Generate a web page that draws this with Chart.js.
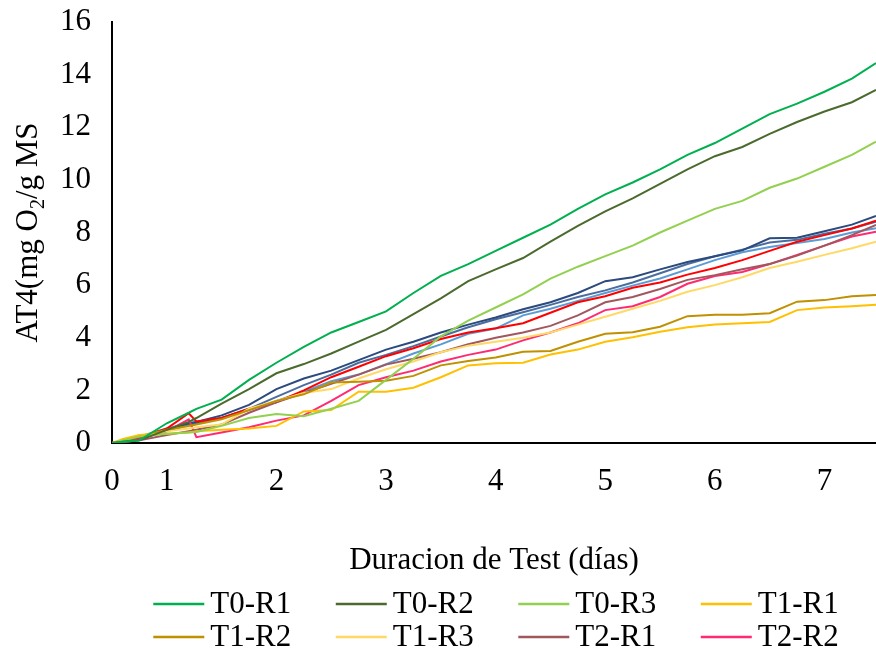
<!DOCTYPE html>
<html>
<head>
<meta charset="utf-8">
<title>AT4</title>
<script src="https://cdn.jsdelivr.net/npm/chart.js@4.4.1/dist/chart.umd.min.js"></script>
<style>
  html, body { margin: 0; padding: 0; background: #fff; }
  #wrap { width: 876px; height: 652px; }
</style>
</head>
<body>
<div id="wrap"><canvas id="at4Chart" width="876" height="652"></canvas></div>
<script>
// Sampling times (days) shared by every run
const days = [0, 0.1, 0.25, 0.5, 0.7, 0.77, 1.0, 1.25, 1.5, 1.75, 2.0, 2.25, 2.5, 2.75, 3.0, 3.25,
    3.5, 3.75, 4.0, 4.25, 4.5, 4.75, 5.0, 5.25, 5.5, 5.75, 6.0, 6.25, 6.5, 6.75, 6.97];

// Cumulative O2 uptake (mg O2 / g MS) per run
const t0r1 = [0, 0.05, 0.1, 0.75, 1.15, 1.3, 1.65, 2.4, 3.05, 3.65, 4.2, 4.6, 5.0, 5.7, 6.35, 6.8,
    7.3, 7.8, 8.3, 8.9, 9.45, 9.9, 10.4, 10.95, 11.4, 11.95, 12.5, 12.9, 13.35, 13.85, 14.44];
const t0r2 = [0, 0.05, 0.1, 0.5, 0.8, 0.95, 1.5, 2.05, 2.65, 3.0, 3.4, 3.85, 4.3, 4.9, 5.5, 6.15,
    6.6, 7.03, 7.65, 8.25, 8.8, 9.3, 9.85, 10.4, 10.9, 11.25, 11.75, 12.2, 12.6, 12.95, 13.42];
const t0r3 = [0, 0.1, 0.25, 0.35, 0.4, 0.42, 0.65, 0.95, 1.1, 1.02, 1.3, 1.6, 2.4, 3.2, 4.05, 4.65,
    5.15, 5.65, 6.25, 6.7, 7.1, 7.5, 8.0, 8.45, 8.9, 9.2, 9.7, 10.05, 10.5, 10.95, 11.45];
const t1r1 = [0, 0.15, 0.3, 0.35, 0.4, 0.45, 0.5, 0.55, 0.65, 1.2, 1.25, 1.95, 1.95, 2.1, 2.5, 2.95,
    3.03, 3.05, 3.36, 3.55, 3.85, 4.02, 4.23, 4.4, 4.5, 4.55, 4.6, 5.05, 5.15, 5.2, 5.25];
const t1r2 = [0, 0.1, 0.25, 0.5, 0.65, 0.7, 0.9, 1.25, 1.6, 1.85, 2.3, 2.33, 2.37, 2.55, 2.95, 3.12,
    3.25, 3.47, 3.5, 3.85, 4.15, 4.21, 4.42, 4.82, 4.87, 4.87, 4.93, 5.37, 5.43, 5.58, 5.62];
const t1r3 = [0, 0.1, 0.3, 0.45, 0.55, 0.6, 0.7, 1.3, 1.6, 1.9, 2.05, 2.45, 2.8, 3.1, 3.45, 3.7,
    3.85, 4.0, 4.2, 4.5, 4.8, 5.1, 5.4, 5.75, 6.0, 6.3, 6.65, 6.89, 7.15, 7.4, 7.65];
const t2r1 = [0, 0.03, 0.1, 0.3, 0.45, 0.5, 0.7, 1.15, 1.55, 1.9, 2.25, 2.6, 2.98, 3.2, 3.45, 3.75,
    4.0, 4.2, 4.45, 4.85, 5.35, 5.55, 5.85, 6.2, 6.38, 6.6, 6.8, 7.12, 7.5, 7.9, 8.29];
const t2r2 = [0, 0.05, 0.15, 0.45, 0.9, 0.22, 0.4, 0.6, 0.85, 1.05, 1.6, 2.2, 2.5, 2.75, 3.1, 3.35,
    3.55, 3.9, 4.2, 4.55, 5.05, 5.2, 5.55, 6.05, 6.35, 6.5, 6.8, 7.15, 7.5, 7.85, 8.03];
const t2r3 = [0, 0.05, 0.2, 0.55, 1.13, 0.82, 0.95, 1.3, 1.55, 2.0, 2.5, 2.9, 3.3, 3.6, 3.95, 4.2,
    4.36, 4.55, 4.95, 5.35, 5.58, 5.9, 6.1, 6.4, 6.65, 6.95, 7.3, 7.65, 7.9, 8.15, 8.45];
const t3r1 = [0, 0.1, 0.25, 0.5, 0.75, 0.8, 1.05, 1.45, 2.05, 2.45, 2.75, 3.15, 3.55, 3.85, 4.2, 4.5,
    4.77, 5.08, 5.35, 5.7, 6.15, 6.3, 6.6, 6.88, 7.1, 7.32, 7.78, 7.8, 8.05, 8.3, 8.63];
const t3r2 = [0, 0.08, 0.2, 0.45, 0.7, 0.75, 0.95, 1.3, 1.75, 2.2, 2.6, 3.05, 3.35, 3.68, 4.05, 4.4,
    4.7, 4.97, 5.25, 5.55, 5.8, 6.1, 6.45, 6.8, 7.1, 7.35, 7.62, 7.72, 7.95, 8.15, 8.41];
const t3r3 = [0, 0.08, 0.25, 0.55, 0.75, 0.8, 0.95, 1.25, 1.6, 1.95, 2.35, 2.6, 3.0, 3.4, 3.75, 4.15,
    4.35, 4.85, 5.1, 5.4, 5.7, 5.98, 6.25, 6.6, 6.95, 7.25, 7.45, 7.6, 7.75, 8.0, 8.16];

const runNames = ['T0-R1', 'T0-R2', 'T0-R3', 'T1-R1', 'T1-R2', 'T1-R3', 'T2-R1', 'T2-R2',
    'T2-R3', 'T3-R1', 'T3-R2', 'T3-R3'];
const runValues = [t0r1, t0r2, t0r3, t1r1, t1r2, t1r3, t2r1, t2r2, t2r3, t3r1, t3r2, t3r3];
const runColors = ['#00B050', '#4B6A2E', '#92D050', '#FFC000', '#BF9000', '#FFD966', '#A0585E',
    '#FF2A72', '#FF0000', '#2B4A7E', '#4A6C9E', '#5B9BD5'];
const legendCount = 8; // only the first runs appear in the legend

// Axis ticks: day labels sit at these positions on the time axis
const xTickDays = [0, 0.5, 1.5, 2.5, 3.5, 4.5, 5.5, 6.5];
const xTickLabels = ['0', '1', '2', '3', '4', '5', '6', '7'];
const xMax = 6.97;
const yMax = 16;
const yStep = 2;

const FAMILY = "'Liberation Serif', 'Times New Roman', serif";
const FONT_SIZE = 31;

// Rotated y-axis title with a real subscript
const yTitlePlugin = {
    id: 'yTitle',
    afterDraw(chart) {
        const { ctx, chartArea } = chart;
        const parts = [
            { text: 'AT4(mg O', size: FONT_SIZE, dy: 0 },
            { text: '2', size: 20, dy: 7 },
            { text: '/g MS', size: FONT_SIZE, dy: 0 }
        ];
        ctx.save();
        let total = 0;
        parts.forEach(p => {
            ctx.font = `${p.size}px ${FAMILY}`;
            p.w = ctx.measureText(p.text).width;
            total += p.w;
        });
        ctx.translate(37, (chartArea.top + chartArea.bottom) / 2);
        ctx.rotate(-Math.PI / 2);
        ctx.fillStyle = '#000';
        ctx.textBaseline = 'alphabetic';
        ctx.textAlign = 'left';
        let x = -total / 2;
        parts.forEach(p => {
            ctx.font = `${p.size}px ${FAMILY}`;
            ctx.fillText(p.text, x, p.dy);
            x += p.w;
        });
        ctx.restore();
    }
};

// Legend laid out as an even grid of 4 columns under the axis title
const gridLegendPlugin = {
    id: 'gridLegend',
    afterDraw(chart) {
        const { ctx, chartArea } = chart;
        const cols = 4, colStep = 182.5, rowTop = 604, rowStep = 33;
        const sample = 51, gap = 6;
        const items = chart.data.datasets.slice(0, legendCount);
        ctx.save();
        ctx.font = `${FONT_SIZE}px ${FAMILY}`;
        const textW = Math.max(...items.map(d => ctx.measureText(d.label).width));
        const total = colStep * (cols - 1) + sample + gap + textW;
        const x0 = (chartArea.left + chartArea.right) / 2 - total / 2 + 2;
        ctx.textBaseline = 'middle';
        ctx.textAlign = 'left';
        items.forEach((ds, i) => {
            const x = x0 + (i % cols) * colStep;
            const y = rowTop + Math.floor(i / cols) * rowStep;
            ctx.strokeStyle = ds.borderColor;
            ctx.lineWidth = 2.5;
            ctx.beginPath();
            ctx.moveTo(x, y);
            ctx.lineTo(x + sample, y);
            ctx.stroke();
            ctx.fillStyle = '#000';
            ctx.fillText(ds.label, x + sample + gap, y + 1);
        });
        ctx.restore();
    }
};

const datasets = runNames.map((name, i) => ({
    label: name,
    data: days.map((d, k) => ({ x: d, y: runValues[i][k] })),
    borderColor: runColors[i],
    backgroundColor: runColors[i],
    borderWidth: 2,
    pointRadius: 0,
    tension: 0,
    fill: false
}));

const ctx = document.getElementById('at4Chart').getContext('2d');
new Chart(ctx, {
    type: 'line',
    data: { datasets: datasets },
    options: {
        responsive: false,
        animation: false,
        layout: { padding: { top: 22, left: 0, right: 0, bottom: 0 } },
        plugins: {
            legend: { display: false },
            tooltip: { enabled: false }
        },
        scales: {
            x: {
                type: 'linear',
                min: 0,
                max: xMax,
                grid: { display: false },
                border: { display: true, color: '#000', width: 2 },
                afterBuildTicks: scale => {
                    scale.ticks = xTickDays.map(v => ({ value: v }));
                },
                afterFit: scale => {
                    scale.height = 209;
                    scale.paddingLeft = 0;
                    scale.paddingRight = 0;
                },
                ticks: {
                    autoSkip: false,
                    maxRotation: 0,
                    padding: 12,
                    color: '#000',
                    font: { family: FAMILY, size: FONT_SIZE },
                    callback: (value, index) => xTickLabels[index]
                },
                title: {
                    display: true,
                    text: 'Duracion de Test (días)',
                    color: '#000',
                    font: { family: FAMILY, size: FONT_SIZE },
                    padding: { top: 0, bottom: 73 }
                }
            },
            y: {
                min: 0,
                max: yMax,
                grid: { display: false },
                border: { display: true, color: '#000', width: 2 },
                afterFit: scale => {
                    scale.width = 112;
                    scale.paddingTop = 0;
                    scale.paddingBottom = 0;
                },
                ticks: {
                    stepSize: yStep,
                    padding: 13,
                    color: '#000',
                    font: { family: FAMILY, size: FONT_SIZE }
                }
            }
        }
    },
    plugins: [yTitlePlugin, gridLegendPlugin]
});
</script>
</body>
</html>
